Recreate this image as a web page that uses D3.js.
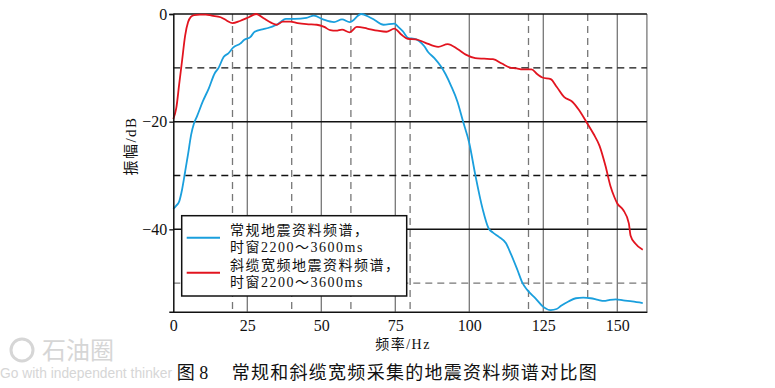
<!DOCTYPE html>
<html>
<head>
<meta charset="utf-8">
<script src="https://cdn.jsdelivr.net/npm/d3@7"></script>
<style>
    body { margin: 0; background: #fff; }
    text { font-family: "Liberation Serif", "Noto Sans CJK SC", serif; }
</style>
</head>
<body>
<svg id="chart"></svg>
<script>
// broadband (slant cable) spectrum
const broadFreq = [0, 1, 2, 3, 4, 5, 6, 7, 9, 11, 13, 16, 18, 20, 22.5, 25.5, 28, 30.5, 33, 35, 37, 39.5,
    42, 45, 48.5, 51, 53, 55, 57, 59.6, 62, 65.5, 69, 72, 74.7, 77, 79.2, 82, 85, 89.5, 92.7, 96, 99,
    102, 105, 108, 111, 113.5, 116, 118, 121, 123, 124.7, 127.5, 129.5, 132, 134.8, 137, 139.5, 142,
    144, 146, 147.7, 149, 150, 152, 153.9, 154.5, 156, 158.6];
const broadDb = [-19.5, -17.5, -13, -8.5, -4, -1.5, -0.5, -0.2, -0.1, -0.1, -0.3, -0.6, -1.2, -1.7, -1.3,
    -0.6, 0, -0.8, -1.6, -2.0, -1.4, -1.4, -1.7, -1.9, -2.0, -2.4, -3.0, -3.1, -2.9, -3.4, -2.4, -2.7,
    -3.1, -3.3, -2.7, -3.8, -4.6, -4.7, -5.3, -6.1, -5.6, -6.5, -7.6, -8.2, -8.3, -8.4, -9.2, -9.9,
    -10.1, -10.3, -10.3, -11.2, -11.8, -12.1, -13.5, -15.4, -16.3, -17.8, -20, -22.3, -24.5, -28.2,
    -32, -34, -35.2, -36.4, -38.9, -41.2, -42.6, -43.8];

// conventional spectrum
const convFreq = [0, 1, 2, 3, 4, 5, 6, 7, 8, 10, 12, 14, 15.3, 17, 18.6, 20.3, 22.6, 24, 26, 27.5, 30.4,
    32, 34.5, 36, 38, 41, 45, 47.5, 50.6, 54.3, 57, 59.6, 63.5, 66.3, 68, 71, 74.7, 76, 77.5, 79.5,
    81.5, 84.8, 86, 88.2, 90.5, 92, 93.8, 96, 97.8, 100, 102, 104.5, 106.5, 108, 110, 112.4, 114,
    116.3, 118, 119.5, 122.5, 125, 127.5, 129.5, 131, 133.5, 136, 138.5, 141, 143.5, 145.5, 147.5,
    149.5, 152, 155, 158.6];
const convDb = [-36.2, -35.6, -34.8, -32.5, -29.3, -26, -22.5, -20.3, -19, -16.2, -13.8, -11, -10, -8,
    -7.3, -6.2, -5.5, -4.8, -4.3, -3.3, -2.8, -2.6, -2.1, -1.6, -0.9, -0.9, -0.7, -0.3, -1.0, -1.5,
    -1.0, -1.5, 0, -0.6, -1.1, -2.0, -1.8, -2.4, -3.2, -4.5, -4.6, -6.0, -7.0, -8.2, -9.8, -11.2,
    -13.3, -16.3, -19.8, -24, -29.8, -36.2, -39.8, -40.6, -41.4, -42.6, -44.5, -47.6, -50, -51.2,
    -52.9, -54.4, -55, -54.8, -54.2, -53.4, -52.8, -52.7, -52.8, -53.1, -53.3, -53.1, -53, -53.2,
    -53.4, -53.7];

const xTicks = [0, 25, 50, 75, 100, 125, 150];
const xDashed = [20, 40, 60, 80, 120, 140];
const yTicks = [0, -20, -40];
const ySolid = [-20, -40];
const yDashed = [-10, -30, -50];

const legendLines = [
    ["常规地震资料频谱，", "时窗2200～3600ms"],
    ["斜缆宽频地震资料频谱，", "时窗2200～3600ms"]
];

const blue = "#1a9fdd", red = "#e2141f";

const width = 775, height = 388;
const plot = {left: 173.3, right: 646.9, top: 14, bottom: 311.7};

const svg = d3.select("#chart")
    .attr("width", width)
    .attr("height", height);

const x = d3.scaleLinear().domain([0, 160]).range([plot.left, plot.right]);
const y = d3.scaleLinear().domain([-55.3, 0]).range([plot.bottom, plot.top]);

// grid: dashed verticals first, then solid ones
svg.append("g")
    .selectAll("line")
    .data(xDashed)
    .join("line")
    .attr("x1", d => x(d)).attr("x2", d => x(d))
    .attr("y1", plot.top).attr("y2", plot.bottom)
    .attr("stroke", "#777")
    .attr("stroke-width", 1.3)
    .attr("stroke-dasharray", "7,5");

svg.append("g")
    .selectAll("line")
    .data(xTicks.slice(1).concat([160]))
    .join("line")
    .attr("x1", d => x(d)).attr("x2", d => x(d))
    .attr("y1", plot.top).attr("y2", plot.bottom)
    .attr("stroke", "#777")
    .attr("stroke-width", 1.3);

svg.append("g")
    .selectAll("line")
    .data(yDashed)
    .join("line")
    .attr("x1", plot.left).attr("x2", plot.right)
    .attr("y1", d => y(d)).attr("y2", d => y(d))
    .attr("stroke", d => d === -50 ? "#777" : "#111")
    .attr("stroke-width", 1.3)
    .attr("stroke-dasharray", "7,5");

svg.append("g")
    .selectAll("line")
    .data(ySolid.concat([0]))
    .join("line")
    .attr("x1", plot.left).attr("x2", plot.right)
    .attr("y1", d => y(d)).attr("y2", d => y(d))
    .attr("stroke", "#111")
    .attr("stroke-width", 1.5);

// spectra
const line = d3.line().curve(d3.curveMonotoneX);

svg.append("path")
    .attr("d", line(convFreq.map((f, i) => [x(f), y(convDb[i])])))
    .attr("fill", "none")
    .attr("stroke", blue)
    .attr("stroke-width", 1.8);

svg.append("path")
    .attr("d", line(broadFreq.map((f, i) => [x(f), y(broadDb[i])])))
    .attr("fill", "none")
    .attr("stroke", red)
    .attr("stroke-width", 1.8);

// axes
const xAxis = svg.append("g")
    .attr("transform", `translate(0,${plot.bottom})`)
    .call(d3.axisBottom(x).tickValues(xTicks).tickSize(0).tickPadding(8));
xAxis.select(".domain").attr("stroke", "#111").attr("stroke-width", 1.5);
xAxis.selectAll("text").style("font-size", "16px").attr("fill", "#111");

const yAxis = svg.append("g")
    .attr("transform", `translate(${plot.left},0)`)
    .call(d3.axisLeft(y).tickValues(yTicks).tickSize(4).tickPadding(2));
yAxis.select(".domain").attr("stroke", "#111").attr("stroke-width", 1.5);
yAxis.selectAll(".tick line").attr("stroke", "#111").attr("stroke-width", 1.3);
yAxis.selectAll("text").style("font-size", "16px").attr("fill", "#111");

// legend
const legend = svg.append("g");
legend.append("rect")
    .attr("x", 181.7).attr("y", 215.7)
    .attr("width", 225).attr("height", 80.3)
    .attr("fill", "#fff")
    .attr("stroke", "#111")
    .attr("stroke-width", 1.5);

[blue, red].forEach((c, i) => {
    const ly = 237.7 + i * 35;
    legend.append("line")
        .attr("x1", 186.7).attr("x2", 220)
        .attr("y1", ly).attr("y2", ly)
        .attr("stroke", c)
        .attr("stroke-width", 2);
    legendLines[i].forEach((t, j) => {
        legend.append("text")
            .attr("x", 230)
            .attr("y", 235 + i * 35 + j * 17)
            .style("font-size", "14px")
            .style("letter-spacing", "1.5px")
            .attr("fill", "#111")
            .text(t);
    });
});

// axis titles
svg.append("text")
    .attr("transform", "translate(136,146) rotate(-90)")
    .attr("text-anchor", "middle")
    .style("font-size", "15px")
    .style("letter-spacing", "1.5px")
    .attr("fill", "#111")
    .text("振幅/dB");

svg.append("text")
    .attr("x", 403)
    .attr("y", 349)
    .attr("text-anchor", "middle")
    .style("font-size", "14px")
    .style("letter-spacing", "1.5px")
    .attr("fill", "#111")
    .text("频率/Hz");

// caption
svg.append("text")
    .attr("x", 176.7)
    .attr("y", 379)
    .style("font-size", "18px")
    .attr("fill", "#111")
    .text("图 8");

svg.append("text")
    .attr("x", 231.7)
    .attr("y", 379)
    .attr("textLength", 365)
    .attr("lengthAdjust", "spacing")
    .style("font-size", "18px")
    .attr("fill", "#111")
    .text("常规和斜缆宽频采集的地震资料频谱对比图");

// faint watermark
const wm = svg.append("g").attr("fill", "#d6d6d6");
wm.append("circle")
    .attr("cx", 22).attr("cy", 350).attr("r", 11)
    .attr("fill", "none")
    .attr("stroke", "#d6d6d6")
    .attr("stroke-width", 3);
wm.append("text")
    .attr("x", 42).attr("y", 359)
    .style("font-family", "Noto Sans CJK SC")
    .style("font-size", "24px")
    .text("石油圈");
wm.append("text")
    .attr("x", 0).attr("y", 378)
    .attr("textLength", 172)
    .attr("lengthAdjust", "spacingAndGlyphs")
    .style("font-family", "Liberation Sans")
    .style("font-size", "14px")
    .text("Go with independent thinker");
</script>
</body>
</html>
